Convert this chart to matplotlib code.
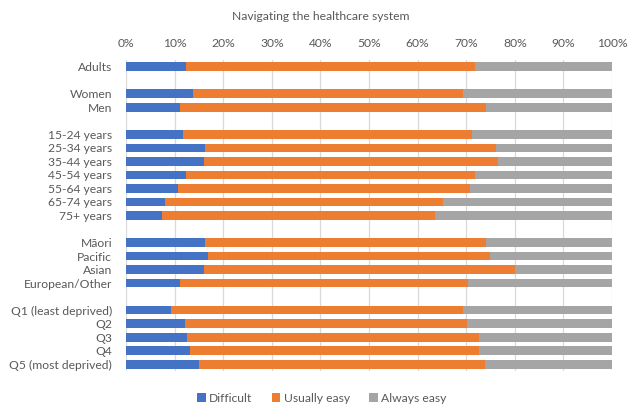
import matplotlib
matplotlib.use("Agg")
import matplotlib.pyplot as plt
import numpy as np

plt.rcParams['font.family'] = ['Lato', 'DejaVu Sans']

title = "Navigating the healthcare system"
series_names = ["Difficult", "Usually easy", "Always easy"]
colors = ["#4472C4", "#ED7D31", "#A5A5A5"]

# groups of categories (a blank row is left between groups)
group_labels = [
    ["Adults"],
    ["Women", "Men"],
    ["15-24 years", "25-34 years", "35-44 years", "45-54 years", "55-64 years", "65-74 years", "75+ years"],
    ["Māori", "Pacific", "Asian", "European/Other"],
    ["Q1 (least deprived)", "Q2", "Q3", "Q4", "Q5 (most deprived)"],
]
difficult = [
    [12.3],
    [13.8, 11.1],
    [11.7, 16.3, 16.0, 12.3, 10.7, 8.0, 7.4],
    [16.3, 16.9, 16.0, 11.1],
    [9.3, 12.1, 12.6, 13.2, 15.0],
]
usually_easy = [
    [59.6],
    [55.6, 63.0],
    [59.5, 59.8, 60.5, 59.6, 60.1, 57.3, 56.2],
    [57.8, 58.0, 64.1, 59.2],
    [60.1, 58.1, 60.1, 59.5, 58.9],
]
always_easy = [
    [28.1],
    [30.6, 25.9],
    [28.8, 23.9, 23.5, 28.1, 29.2, 34.7, 36.4],
    [25.9, 25.1, 19.9, 29.7],
    [30.6, 29.8, 27.3, 27.3, 26.1],
]

# flatten with gap rows
labels, ypos, d, u, a = [], [], [], [], []
row = 0
for gi, grp in enumerate(group_labels):
    for j, lab in enumerate(grp):
        labels.append(lab)
        ypos.append(row)
        d.append(difficult[gi][j])
        u.append(usually_easy[gi][j])
        a.append(always_easy[gi][j])
        row += 1
    row += 1
nrows = row - 1
ypos = np.array(ypos)
d, u, a = np.array(d), np.array(u), np.array(a)
tot = d + u + a
d, u, a = d / tot * 100, u / tot * 100, a / tot * 100

fig = plt.figure(figsize=(6.42, 4.19), dpi=100)
ax = fig.add_axes([126/642, 1 - 371/419, (612-126)/642, (371-60)/419])

h = 0.64
ax.barh(ypos, d, height=h, color=colors[0], label=series_names[0], zorder=3)
ax.barh(ypos, u, left=d, height=h, color=colors[1], label=series_names[1], zorder=3)
ax.barh(ypos, a, left=d + u, height=h, color=colors[2], label=series_names[2], zorder=3)

ax.set_xlim(0, 100)
ax.set_ylim(nrows - 0.5, -0.5)
ax.set_xticks(np.arange(0, 101, 10))
ax.set_xticklabels([f"{v}%" for v in range(0, 101, 10)])
ax.xaxis.tick_top()
ax.set_yticks(ypos)
ax.set_yticklabels(labels)
ax.grid(axis='x', color='#D9D9D9', linewidth=0.9, zorder=0)
for s in ax.spines.values():
    s.set_visible(False)
ax.tick_params(axis='both', length=0, labelsize=8.7, colors='#595959')
ax.tick_params(axis='x', pad=8)
ax.tick_params(axis='y', pad=10)

fig.text(321/642, 1 - 17/419, title, ha='center', va='center', fontsize=8.7, color='#595959')

leg = fig.legend(loc='center', bbox_to_anchor=(322/642, 1 - 398/419), ncol=3, frameon=False,
                 fontsize=8.7, handlelength=0.7, handleheight=0.7, handletextpad=0.3,
                 columnspacing=1.6, labelcolor='#595959')

fig.savefig("out.png", dpi=100)
